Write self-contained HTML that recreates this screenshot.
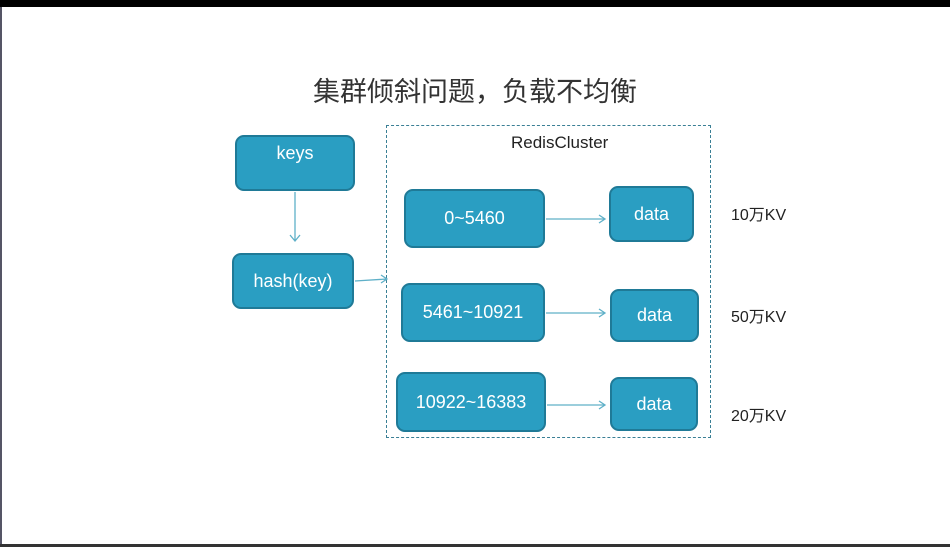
<!DOCTYPE html>
<html><head><meta charset="utf-8"><style>
body{margin:0;width:950px;height:547px;background:#fff;position:relative;overflow:hidden;font-family:"Liberation Sans","Noto Sans CJK SC",sans-serif}
.top{position:absolute;left:0;top:0;width:950px;height:7px;background:#000}
.bot{position:absolute;left:0;top:544px;width:950px;height:3px;background:#333}
.lft{position:absolute;left:0;top:7px;width:2px;height:540px;background:#556}
.b{position:absolute;box-sizing:border-box;background:#2a9ec2;border:2px solid #1f7a97;border-radius:9px;color:#fff;font-size:18px;display:flex;align-items:center;justify-content:center}
.t{position:absolute;font-size:16px;color:#222}
</style></head><body>
<div class="top"></div><div class="lft"></div><div class="bot"></div>
<div style="position:absolute;left:0;width:950px;top:70px;text-align:center;font-size:27px;color:#333">集群倾斜问题，负载不均衡</div>
<div style="position:absolute;left:386px;top:125px;width:325px;height:313px;box-sizing:border-box;border:1px dashed #3a7f95"></div>
<div class="t" style="left:511px;top:133px;font-size:17px">RedisCluster</div>
<div class="b" style="left:235px;top:135px;width:120px;height:56px;align-items:flex-start;padding-top:6px">keys</div>
<div class="b" style="left:232px;top:253px;width:122px;height:56px">hash(key)</div>
<div class="b" style="left:404px;top:189px;width:141px;height:59px">0~5460</div>
<div class="b" style="left:609px;top:186px;width:85px;height:56px">data</div>
<div class="b" style="left:401px;top:283px;width:144px;height:59px">5461~10921</div>
<div class="b" style="left:610px;top:289px;width:89px;height:53px">data</div>
<div class="b" style="left:396px;top:372px;width:150px;height:60px">10922~16383</div>
<div class="b" style="left:610px;top:377px;width:88px;height:54px">data</div>
<div class="t" style="left:731px;top:201px">10万KV</div>
<div class="t" style="left:731px;top:303px">50万KV</div>
<div class="t" style="left:731px;top:402px">20万KV</div>
<svg width="950" height="547" style="position:absolute;left:0;top:0" fill="none" stroke="#5fb0c8" stroke-width="1.3">
<path d="M295 192V241M290 235l5 6 5-6"/>
<path d="M355 281L387 279M381 275l6 4-6 4"/>
<path d="M546 219H605M599 215l6 4-6 4"/>
<path d="M546 313H605M599 309l6 4-6 4"/>
<path d="M547 405H605M599 401l6 4-6 4"/>
</svg>
</body></html>
